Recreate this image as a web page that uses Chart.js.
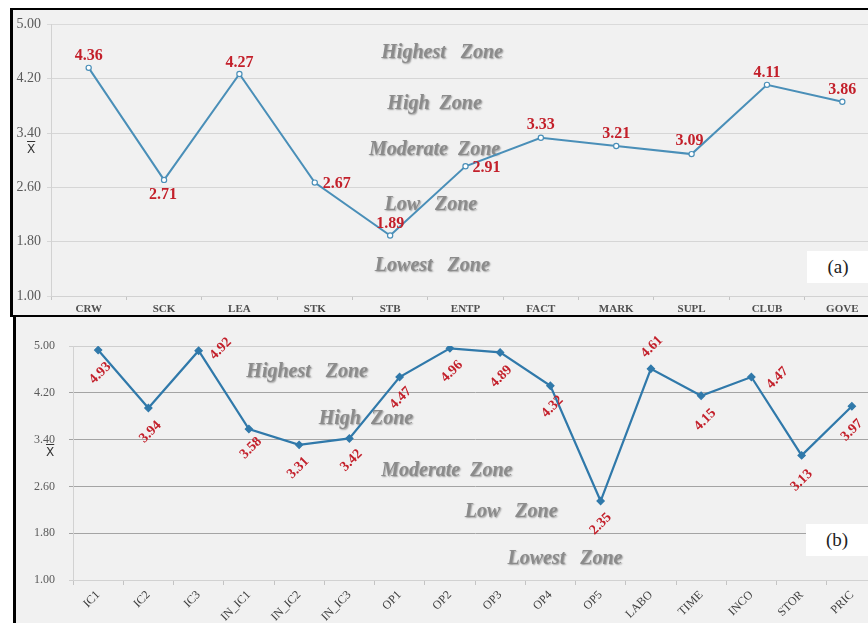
<!DOCTYPE html>
<html>
<head>
<meta charset="utf-8">
<script src="https://cdn.jsdelivr.net/npm/chart.js@4.4.1/dist/chart.umd.min.js"></script>
<style>
  html, body { margin: 0; padding: 0; width: 868px; height: 623px; overflow: hidden; background: #fff; }
  .panel { position: absolute; background: #f1f1f1; overflow: hidden; }
  #panelA { left: 10px; top: 8px; width: 900px; height: 305px; border-left: 3px solid #000; border-top: 2px solid #000; border-bottom: 2px solid #000; }
  #panelB { left: 13px; top: 317px; width: 900px; height: 306px; border-left: 3px solid #000; }
  canvas { position: absolute; left: 0; top: 0; }
  .xbar { position: absolute; font: 12px "DejaVu Sans", sans-serif; color: #333; text-decoration: overline; line-height: 12px; }
  .tag { position: absolute; background: #fff; font: 19px "Liberation Serif", serif; color: #222; text-align: center; }
</style>
</head>
<body>
<div class="panel" id="panelA">
  <canvas id="chartA" width="900" height="305"></canvas>
  <div class="xbar" style="left:14px;top:133px;">X</div>
  <div class="tag" style="left:794px;top:241px;width:62px;height:32px;line-height:32px;padding-right:20px;">(a)</div>
</div>
<div class="panel" id="panelB">
  <canvas id="chartB" width="900" height="306"></canvas>
  <div class="xbar" style="left:30px;top:129px;">X</div>
  <div class="tag" style="left:790px;top:207px;width:62px;height:32px;line-height:32px;padding-right:20px;">(b)</div>
</div>
<script>
// Mean scores, first group of factors
const catsA = ['CRW', 'SCK', 'LEA', 'STK', 'STB', 'ENTP', 'FACT', 'MARK', 'SUPL', 'CLUB', 'GOVE'];
const valsA = [4.36, 2.71, 4.27, 2.67, 1.89, 2.91, 3.33, 3.21, 3.09, 4.11, 3.86];

// Mean scores, second group of factors
const catsB = ['IC1', 'IC2', 'IC3', 'IN_IC1', 'IN_IC2', 'IN_IC3', 'OP1', 'OP2', 'OP3', 'OP4', 'OP5', 'LABO', 'TIME', 'INCO', 'STOR', 'PRIC'];
const valsB = [4.93, 3.94, 4.92, 3.58, 3.31, 3.42, 4.47, 4.96, 4.89, 4.32, 2.35, 4.61, 4.15, 4.47, 3.13, 3.97];

// Shared value axis
const yTickValues = [1.00, 1.80, 2.60, 3.40, 4.20, 5.00];
const yTickLabels = ['1.00', '1.80', '2.60', '3.40', '4.20', '5.00'];

// Zone captions (one per band of the value axis)
const zoneNames = ['Highest   Zone', 'High  Zone', 'Moderate  Zone', 'Low   Zone', 'Lowest   Zone'];

// Where each caption sits: [category index, axis value]
const zoneSpotsA = [[4.69, 4.58], [4.59, 3.83], [4.59, 3.16], [4.54, 2.35], [4.56, 1.45]];
const zoneSpotsB = [[4.16, 4.56], [5.33, 3.75], [6.94, 2.86], [8.22, 2.16], [9.29, 1.36]];

// Value label nudges from each point, in pixels: [dx, dy]
const labelShiftA = [[0, -12], [-1, 15], [0, -11], [22, 1], [0, -12], [21, 2], [0, -13], [0, -12], [-2, -13], [0, -12], [0, -12]];
const labelShiftB = [[2, 23], [2, 24], [22, -2], [2, 19], [-1, 23], [2, 22], [1, 21], [2, 23], [1, 24], [2, 21], [0, 23], [1, -22], [4, 24], [26, 1], [0, 25], [0, 24]];

const zonePlugin = {
  id: 'zones',
  beforeDatasetsDraw(chart, args, opts) {
    const ctx = chart.ctx;
    const xs = chart.scales.x, ys = chart.scales.y;
    ctx.save();
    ctx.font = 'italic bold 20px "Liberation Serif", serif';
    ctx.textAlign = 'center';
    ctx.textBaseline = 'middle';
    ctx.shadowColor = 'rgba(40,40,40,0.4)';
    ctx.shadowOffsetX = 1;
    ctx.shadowOffsetY = 1;
    ctx.shadowBlur = 1.5;
    ctx.fillStyle = '#8b8b8b';
    opts.spots.forEach((s, i) => {
      ctx.fillText(zoneNames[i], xs.getPixelForValue(s[0]), ys.getPixelForValue(s[1]));
    });
    ctx.restore();
  }
};

const valueLabelPlugin = {
  id: 'valueLabels',
  afterDatasetsDraw(chart, args, opts) {
    const ctx = chart.ctx;
    const meta = chart.getDatasetMeta(0);
    const data = chart.data.datasets[0].data;
    ctx.save();
    ctx.font = opts.font;
    ctx.fillStyle = '#c3202b';
    ctx.textAlign = 'center';
    ctx.textBaseline = 'middle';
    meta.data.forEach((pt, i) => {
      const sh = opts.shift[i];
      const x = pt.x + sh[0], y = pt.y + sh[1];
      const txt = data[i].toFixed(2);
      if (opts.angle) {
        ctx.save();
        ctx.translate(x, y);
        ctx.rotate(opts.angle);
        ctx.fillText(txt, 0, 0);
        ctx.restore();
      } else {
        ctx.fillText(txt, x, y);
      }
    });
    ctx.restore();
  }
};

function makeChart(id, cats, vals, s) {
  return new Chart(document.getElementById(id), {
    type: 'line',
    data: {
      labels: cats,
      datasets: [{
        data: vals,
        borderColor: s.line,
        borderWidth: s.lineWidth,
        tension: 0,
        pointStyle: s.pointStyle,
        pointRadius: s.pointRadius,
        pointBorderWidth: 1.2,
        pointBorderColor: s.line,
        pointBackgroundColor: s.pointFill
      }]
    },
    options: {
      responsive: false,
      animation: false,
      events: [],
      layout: { padding: s.padding },
      plugins: {
        legend: { display: false },
        tooltip: { enabled: false },
        zones: { spots: s.zones },
        valueLabels: { shift: s.shift, font: s.labelFont, angle: s.labelAngle }
      },
      scales: {
        x: {
          offset: true,
          grid: { offset: true, drawOnChartArea: false, tickLength: s.xTick, color: '#c4c4c4' },
          border: { color: '#d2d2d2' },
          ticks: {
            autoSkip: false,
            minRotation: s.rot, maxRotation: s.rot,
            padding: s.xPad,
            color: s.xColor,
            font: s.xFont
          },
          afterFit(scale) { scale.height = s.xHeight; }
        },
        y: {
          min: 1, max: 5,
          afterBuildTicks(scale) { scale.ticks = yTickValues.map(v => ({ value: v })); },
          grid: {
            tickLength: 4,
            color: ctx => (ctx.tick && (ctx.tick.value === 1 || ctx.tick.value === 5)) ? s.edgeGrid : s.grid
          },
          border: { color: '#d2d2d2' },
          ticks: {
            padding: s.yPad,
            color: '#5a5a5a',
            font: s.yFont,
            callback: (v, i) => yTickLabels[i]
          },
          afterFit(scale) { scale.width = s.yWidth; }
        }
      }
    },
    plugins: [zonePlugin, valueLabelPlugin]
  });
}

makeChart('chartA', catsA, valsA, {
  line: '#4a8fb8', lineWidth: 2, pointStyle: 'circle', pointRadius: 2.6, pointFill: '#ffffff',
  padding: { top: 10, right: 33, left: 0, bottom: 0 },
  zones: zoneSpotsA, shift: labelShiftA, labelFont: 'bold 16px "Liberation Serif", serif', labelAngle: 0,
  xTick: 4, rot: 0, xPad: 3, xColor: '#505050', xFont: { family: 'Liberation Serif', size: 11, weight: 'bold' },
  xHeight: 19, yWidth: 38, yPad: 6, yFont: { family: 'Liberation Serif', size: 14 },
  grid: '#d6d6d6', edgeGrid: '#dadada'
});

makeChart('chartB', catsB, valsB, {
  line: '#3079aa', lineWidth: 2.2, pointStyle: 'rectRot', pointRadius: 3.6, pointFill: '#3079aa',
  padding: { top: 29, right: 39, left: 0, bottom: 0 },
  zones: zoneSpotsB, shift: labelShiftB, labelFont: 'bold 14px "Liberation Serif", serif', labelAngle: -Math.PI / 4,
  xTick: 5, rot: 45, xPad: 3, xColor: '#404040', xFont: { family: 'Liberation Serif', size: 12 },
  xHeight: 43, yWidth: 57, yPad: 14, yFont: { family: 'Liberation Serif', size: 12 },
  grid: '#a4a4a4', edgeGrid: '#cfcfcf'
});
</script>
</body>
</html>
